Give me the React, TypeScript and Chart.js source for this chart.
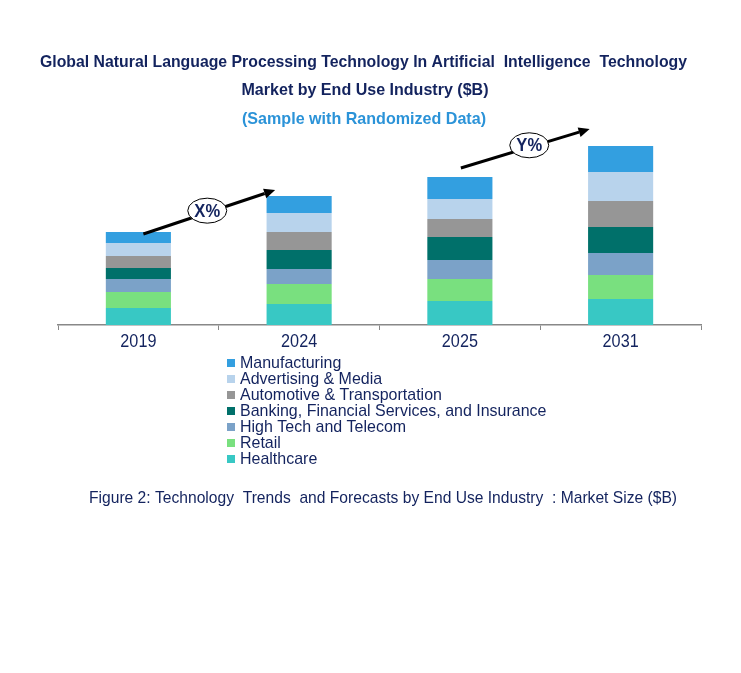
import React, { useEffect, useRef } from "react";
import { Chart, registerables } from "chart.js";

Chart.register(...registerables);

const years = ["2019", "2024", "2025", "2031"];

const healthcare = [1.7, 2.1, 2.4, 2.6];
const retail = [1.6, 2.0, 2.2, 2.4];
const highTech = [1.3, 1.5, 1.9, 2.2];
const banking = [1.1, 1.9, 2.3, 2.6];
const automotive = [1.2, 1.8, 1.8, 2.6];
const advertising = [1.3, 1.9, 2.0, 2.9];
const manufacturing = [1.1, 1.7, 2.2, 2.6];

const seriesNames = [
  "Healthcare",
  "Retail",
  "High Tech and Telecom",
  "Banking, Financial Services, and Insurance",
  "Automotive & Transportation",
  "Advertising & Media",
  "Manufacturing",
];
const seriesValues = [healthcare, retail, highTech, banking, automotive, advertising, manufacturing];
const seriesColors = ["#38c8c4", "#79e07f", "#7ba2c8", "#00706a", "#969696", "#b8d3ec", "#339fe0"];

const titleLine1 = "Global Natural Language Processing Technology In Artificial  Intelligence  Technology";
const titleLine2 = "Market by End Use Industry ($B)";
const subtitle = "(Sample with Randomized Data)";
const caption = "Figure 2: Technology  Trends  and Forecasts by End Use Industry  : Market Size ($B)";
const growthLabels = ["X%", "Y%"];

const NAVY = "#13235e";
const FONT = '"Liberation Sans", Arial, sans-serif';

function fitText(ctx: CanvasRenderingContext2D, text: string, x: number, y: number, width: number, align: "left" | "center") {
  const w = ctx.measureText(text).width;
  const sx = width / w;
  ctx.save();
  ctx.translate(x, y);
  ctx.scale(sx, 1);
  ctx.textAlign = align;
  ctx.fillText(text, 0, 0);
  ctx.restore();
}

function squeezeText(ctx: CanvasRenderingContext2D, text: string, x: number, y: number, sx: number, align: "left" | "center") {
  ctx.save();
  ctx.translate(x, y);
  ctx.scale(sx, 1);
  ctx.textAlign = align;
  ctx.fillText(text, 0, 0);
  ctx.restore();
}

function drawArrow(ctx: CanvasRenderingContext2D, x1: number, y1: number, x2: number, y2: number) {
  const ang = Math.atan2(y2 - y1, x2 - x1);
  const head = 11;
  const bx = x2 - head * Math.cos(ang);
  const by = y2 - head * Math.sin(ang);
  ctx.save();
  ctx.strokeStyle = "#000";
  ctx.fillStyle = "#000";
  ctx.lineWidth = 3;
  ctx.beginPath();
  ctx.moveTo(x1, y1);
  ctx.lineTo(bx, by);
  ctx.stroke();
  ctx.beginPath();
  ctx.moveTo(x2, y2);
  ctx.lineTo(bx + 5 * Math.sin(ang), by - 5 * Math.cos(ang));
  ctx.lineTo(bx - 5 * Math.sin(ang), by + 5 * Math.cos(ang));
  ctx.closePath();
  ctx.fill();
  ctx.restore();
}

const overlayPlugin = {
  id: "overlay",
  afterDraw(chart: any) {
    const ctx: CanvasRenderingContext2D = chart.ctx;
    const xs = chart.scales.x;
    const ys = chart.scales.y;
    ctx.save();
    ctx.textBaseline = "middle";

    // Titles
    ctx.fillStyle = NAVY;
    ctx.font = `bold 17px ${FONT}`;
    fitText(ctx, titleLine1, 363.5, 62, 647, "center");
    fitText(ctx, titleLine2, 365, 90, 247, "center");
    ctx.fillStyle = "#2b93d8";
    fitText(ctx, subtitle, 364, 119, 244, "center");

    // Category labels
    ctx.fillStyle = NAVY;
    ctx.font = `18px ${FONT}`;
    chart.data.labels.forEach((lab: string, i: number) => {
      squeezeText(ctx, lab, xs.getPixelForValue(i), 342, 0.9, "center");
    });

    // Growth arrows
    const totals = years.map((_, i) => seriesValues.reduce((s, arr) => s + arr[i], 0));
    const topY = (i: number) => ys.getPixelForValue(totals[i]);
    const cx = (i: number) => xs.getPixelForValue(i);
    const arrows = [
      { x1: cx(0) + 5, y1: topY(0) + 2, x2: cx(1) - 24, y2: topY(1) - 6 },
      { x1: cx(2) + 1, y1: topY(2) - 9, x2: cx(3) - 31, y2: topY(3) - 17 },
    ];
    arrows.forEach((ar, k) => {
      drawArrow(ctx, ar.x1, ar.y1, ar.x2, ar.y2);
      const ex = (ar.x1 + ar.x2) / 2 - (k === 0 ? 2 : -4);
      const t = (ex - ar.x1) / (ar.x2 - ar.x1);
      const ey = ar.y1 + t * (ar.y2 - ar.y1) - 2;
      ctx.beginPath();
      ctx.ellipse(ex, ey, 19.5, 12.5, 0, 0, Math.PI * 2);
      ctx.fillStyle = "#fff";
      ctx.fill();
      ctx.lineWidth = 1;
      ctx.strokeStyle = "#000";
      ctx.stroke();
      ctx.fillStyle = NAVY;
      ctx.font = `bold 18px ${FONT}`;
      squeezeText(ctx, growthLabels[k], ex, ey + 1, 0.92, "center");
    });

    // Legend (reverse order)
    ctx.font = `17px ${FONT}`;
    const ds = chart.data.datasets;
    for (let j = 0; j < ds.length; j++) {
      const d = ds[ds.length - 1 - j];
      const y = 363 + j * 16;
      ctx.fillStyle = d.backgroundColor;
      ctx.fillRect(227, y - 4, 8, 8);
      ctx.fillStyle = NAVY;
      squeezeText(ctx, d.label, 240, y, 0.94, "left");
    }

    // Caption
    ctx.font = `17px ${FONT}`;
    ctx.fillStyle = NAVY;
    fitText(ctx, caption, 89, 498, 588, "left");
    ctx.restore();
  },
};

export default function App() {
  const ref = useRef<HTMLCanvasElement>(null);
  useEffect(() => {
    if (!ref.current) return;
    const chart = new Chart(ref.current, {
      type: "bar",
      data: {
        labels: years,
        datasets: seriesNames.map((name, i) => ({
          label: name,
          data: seriesValues[i],
          backgroundColor: seriesColors[i],
          borderWidth: 0,
          barPercentage: 0.405,
          categoryPercentage: 1,
        })),
      },
      options: {
        responsive: false,
        animation: false,
        devicePixelRatio: 1,
        layout: { padding: { left: 58, right: 40, top: 145, bottom: 318 } },
        plugins: { legend: { display: false }, title: { display: false }, tooltip: { enabled: false } },
        scales: {
          x: {
            stacked: true,
            grid: { display: true, drawOnChartArea: false, drawTicks: true, tickLength: 5, color: "#888", offset: true },
            border: { display: true, color: "#888", width: 1.5 },
            ticks: { display: false },
            afterFit: (s: any) => { s.height = 30; },
          },
          y: { stacked: true, display: false, min: 0, max: 18 },
        },
      },
      plugins: [overlayPlugin],
    });
    return () => chart.destroy();
  }, []);
  return (
    <canvas
      ref={ref}
      width={741}
      height={673}
      style={{ position: "absolute", left: 0, top: 0, width: 741, height: 673 }}
    />
  );
}
